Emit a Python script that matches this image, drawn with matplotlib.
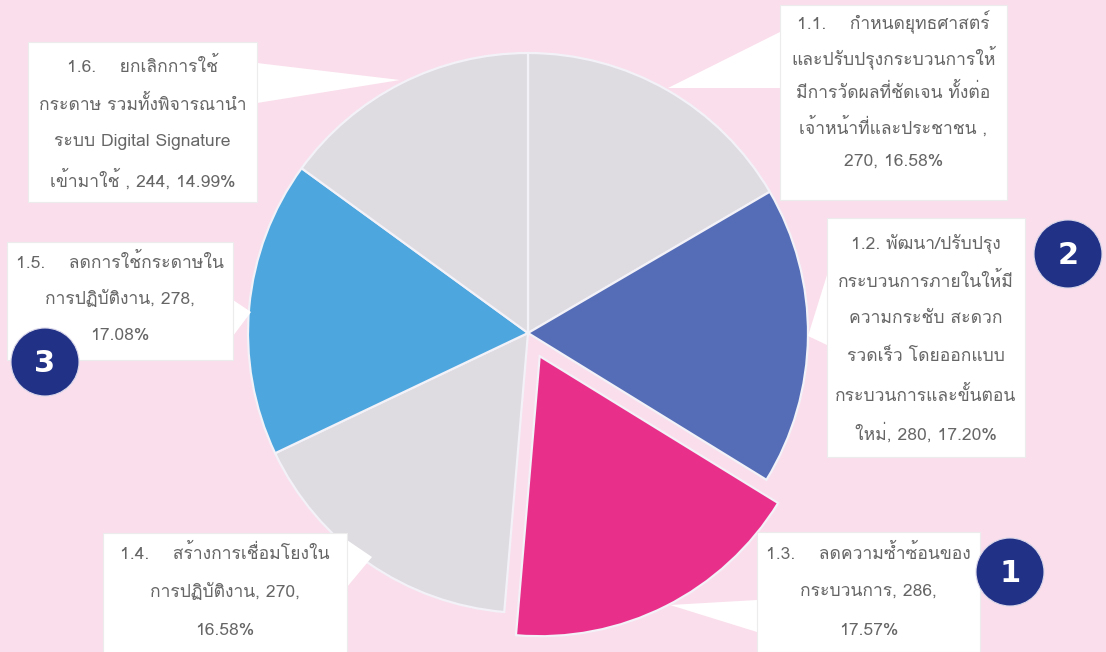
import matplotlib
matplotlib.use("Agg")
import matplotlib.pyplot as plt
from matplotlib import font_manager
from matplotlib.ft2font import FT2Font
from matplotlib.patches import Rectangle, Polygon, Circle

# ---- data ----
labels = ["1.1", "1.2", "1.3", "1.4", "1.5", "1.6"]
counts = [270, 280, 286, 270, 278, 244]
shares = ["16.58%", "17.20%", "17.57%", "16.58%", "17.08%", "14.99%"]
label_lines = [
    ["1.1.    กำหนดยุทธศาสตร์", "และปรับปรุงกระบวนการให้", "มีการวัดผลที่ชัดเจน ทั้งต่อ",
     "เจ้าหน้าที่และประชาชน ,", "270, 16.58%"],
    ["1.2. พัฒนา/ปรับปรุง", "กระบวนการภายในให้มี", "ความกระชับ สะดวก",
     "รวดเร็ว โดยออกแบบ", "กระบวนการและขั้นตอน", "ใหม่, 280, 17.20%"],
    ["1.3.    ลดความซ้ำซ้อนของ", "กระบวนการ, 286,", "17.57%"],
    ["1.4.    สร้างการเชื่อมโยงใน", "การปฏิบัติงาน, 270,", "16.58%"],
    ["1.5.    ลดการใช้กระดาษใน", "การปฏิบัติงาน, 278,", "17.08%"],
    ["1.6.    ยกเลิกการใช้", "กระดาษ รวมทั้งพิจารณานำ", "ระบบ Digital Signature",
     "เข้ามาใช้ , 244, 14.99%"],
]
rank_badges = ["1", "2", "3"]   # ranks for 1.3, 1.2, 1.5

colors = ["#dedbe1", "#556db6", "#e8308b", "#dedbe1", "#4ea6de", "#dedbe1"]
explode = [0, 0, 26, 0, 0, 0]   # pie() offsets in data units (pixels here)

# ---- fonts: look for an installed family that has Thai glyphs ----
def find_thai_font():
    for f in font_manager.fontManager.ttflist:
        try:
            if 0x0E01 in FT2Font(f.fname).get_charmap():
                return f.name
        except Exception:
            pass
    return None

thai = find_thai_font()
plt.rcParams['font.family'] = ([thai] if thai else []) + ['DejaVu Sans']

W, H = 1106, 652
BG = "#fadeeb"

fig = plt.figure(figsize=(W / 100, H / 100), dpi=100, facecolor=BG)
ax = fig.add_axes([0, 0, 1, 1])
ax.set_facecolor(BG)

def Y(py):
    # pixel row -> data y
    return H - py

ax.pie(counts, colors=colors, explode=explode, startangle=90, counterclock=False,
       center=(528, Y(333)), radius=280,
       wedgeprops=dict(edgecolor="#f3f2f8", linewidth=1.6))

# callout boxes: (left, top, right, bottom), pointer base (y1, y2 on the side), apex, first line y, pitch
boxes = [
    dict(box=(780, 5, 1007, 200), side="left", base=(32, 88), apex=(668, 88), y0=22, pitch=35),
    dict(box=(827, 218, 1025, 457), side="left", base=(275, 345), apex=(808, 336), y0=243, pitch=38),
    dict(box=(757, 532, 980, 652), side="left", base=(600, 632), apex=(670, 605), y0=553, pitch=39),
    dict(box=(103, 533, 347, 660), side="right", base=(540, 587), apex=(372, 557), y0=553, pitch=39),
    dict(box=(7, 242, 233, 360), side="right", base=(300, 336), apex=(251, 312), y0=262, pitch=37),
    dict(box=(28, 42, 257, 202), side="right", base=(63, 103), apex=(400, 80), y0=66, pitch=38),
]

for b, lines in zip(boxes, label_lines):
    l, t, r, btm = b["box"]
    sx = l if b["side"] == "left" else r
    ax.add_patch(Polygon([(sx, Y(b["base"][0])), (b["apex"][0], Y(b["apex"][1])),
                          (sx, Y(b["base"][1]))], closed=True, facecolor="white",
                         edgecolor="none", zorder=3))
    ax.add_patch(Rectangle((l, Y(btm)), r - l, btm - t, facecolor="white",
                           edgecolor="#ececec", linewidth=0.8, zorder=3))
    cx = (l + r) / 2
    for i, line in enumerate(lines):
        ax.text(cx, Y(b["y0"] + i * b["pitch"]), line, ha="center", va="center",
                fontsize=12.6, color="#666666", zorder=4)

# rank badges
badge_pos = [(1010, 572), (1068, 254), (45, 362)]
for (bx, by), num in zip(badge_pos, rank_badges):
    ax.add_patch(Circle((bx, Y(by)), 34, facecolor="#213186", edgecolor="#d9d7ea",
                        linewidth=0.8, zorder=5))
    ax.text(bx, Y(by) - 1, num, ha="center", va="center", fontsize=22,
            fontweight="bold", color="white", family="DejaVu Sans", zorder=6)

ax.set_xlim(0, W)
ax.set_ylim(0, H)
ax.set_aspect("equal")
ax.axis("off")

fig.savefig("out.png", dpi=100, facecolor=BG)
